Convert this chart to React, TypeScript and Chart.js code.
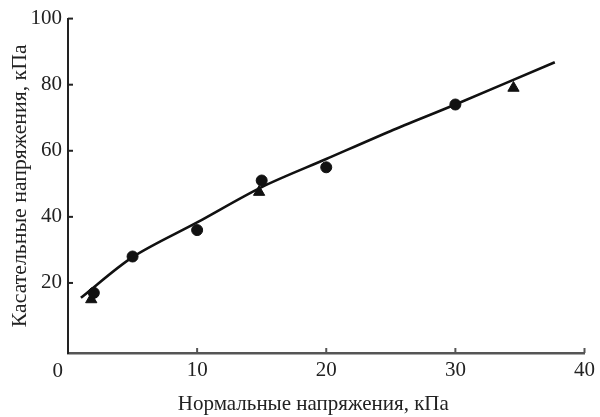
import React, { useEffect, useRef } from "react";
import { Chart, registerables } from "chart.js";

Chart.register(...registerables);

// Fitted curve
const curveX = [1, 5, 10, 15, 20, 25, 30, 37.7];
const curveY = [15.5, 27.8, 38.3, 49, 57.5, 66, 74, 86.8];

// Circles
const circleX = [2, 5, 10, 15, 20, 30];
const circleY = [17, 28, 36, 51, 55, 74];

// Triangles
const triX = [1.8, 14.8, 34.5];
const triY = [15, 47.5, 79];

const xTicks = [0, 10, 20, 30, 40];
const yTicks = [20, 40, 60, 80, 100];

const xTitle = "Нормальные напряжения, кПа";
const yTitle = "Касательные напряжения, кПа";

const FONT = "'Liberation Serif', 'DejaVu Serif', serif";
const TICK_SIZE = 21;

export default function App() {
  const ref = useRef<HTMLCanvasElement | null>(null);

  useEffect(() => {
    if (!ref.current) return;
    const innerTicks = {
      id: "innerTicks",
      afterDraw(chart: any) {
        const ctx = chart.ctx;
        const xs = chart.scales.x;
        const ys = chart.scales.y;
        const area = chart.chartArea;
        ctx.save();
        ctx.strokeStyle = "#222";
        ctx.lineWidth = 2;
        yTicks.forEach((v) => {
          const py = ys.getPixelForValue(v);
          ctx.beginPath();
          ctx.moveTo(area.left, py);
          ctx.lineTo(area.left + 5, py);
          ctx.stroke();
        });
        ctx.strokeStyle = "#555";
        xTicks.forEach((v) => {
          if (v === 0) return;
          const px = xs.getPixelForValue(v);
          ctx.beginPath();
          ctx.moveTo(px, area.bottom);
          ctx.lineTo(px, area.bottom - 5);
          ctx.stroke();
        });
        ctx.fillStyle = "#222";
        ctx.font = `${TICK_SIZE}px ${FONT}`;
        ctx.textAlign = "right";
        ctx.textBaseline = "middle";
        ctx.fillText("0", area.left - 5, area.bottom + 18);
        // x axis title, slightly left of the plot centre as in the reference
        ctx.font = `21px ${FONT}`;
        ctx.textAlign = "center";
        ctx.fillText(xTitle, area.left + (area.right - area.left) * 0.475, area.bottom + 51);
        ctx.restore();
      },
    };

    const chart = new Chart(ref.current, {
      type: "scatter",
      data: {
        datasets: [
          {
            type: "line",
            data: curveX.map((x, i) => ({ x, y: curveY[i] })),
            borderColor: "#111",
            borderWidth: 2.6,
            pointRadius: 0,
            tension: 0.3,
            fill: false,
            order: 0,
          } as any,
          {
            data: circleX.map((x, i) => ({ x, y: circleY[i] })),
            pointStyle: "circle",
            pointRadius: 5.5,
            backgroundColor: "#111",
            borderColor: "#111",
            order: 1,
          },
          {
            data: triX.map((x, i) => ({ x, y: triY[i] })),
            pointStyle: "triangle",
            pointRadius: 6.5,
            backgroundColor: "#111",
            borderColor: "#111",
            order: 1,
          },
        ],
      },
      options: {
        animation: false,
        responsive: false,
        layout: { padding: { top: 15, right: 5, left: 0, bottom: 0 } },
        plugins: { legend: { display: false }, tooltip: { enabled: false } },
        scales: {
          x: {
            type: "linear",
            min: 0,
            max: 40,
            afterFit: (s: any) => {
              s.height = 64;
            },
            afterBuildTicks: (s: any) => {
              s.ticks = xTicks.map((v) => ({ value: v }));
            },
            grid: { display: false, drawTicks: false },
            border: { display: true, color: "#555", width: 2.5 },
            ticks: {
              padding: 5,
              color: "#222",
              font: { family: FONT, size: TICK_SIZE },
              maxRotation: 0,
              callback: (v: any) => (v === 0 ? "" : String(v)),
            },
            title: { display: false },
          },
          y: {
            type: "linear",
            min: -1.2,
            max: 100,
            afterFit: (s: any) => {
              s.width = 68;
            },
            afterBuildTicks: (s: any) => {
              s.ticks = yTicks.map((v) => ({ value: v }));
            },
            grid: { display: false, drawTicks: false },
            border: { display: true, color: "#222", width: 2 },
            ticks: {
              padding: 6,
              color: "#222",
              font: { family: FONT, size: TICK_SIZE },
            },
            title: {
              display: true,
              text: yTitle,
              color: "#222",
              font: { family: FONT, size: 21.8 },
              padding: { top: 7, bottom: 0 },
            },
          },
        },
      },
      plugins: [innerTicks],
    });
    return () => chart.destroy();
  }, []);

  return (
    <div style={{ position: "absolute", left: 0, top: 0, width: 600, height: 417, background: "#fff" }}>
      <canvas ref={ref} width={600} height={417} style={{ display: "block" }} />
    </div>
  );
}
